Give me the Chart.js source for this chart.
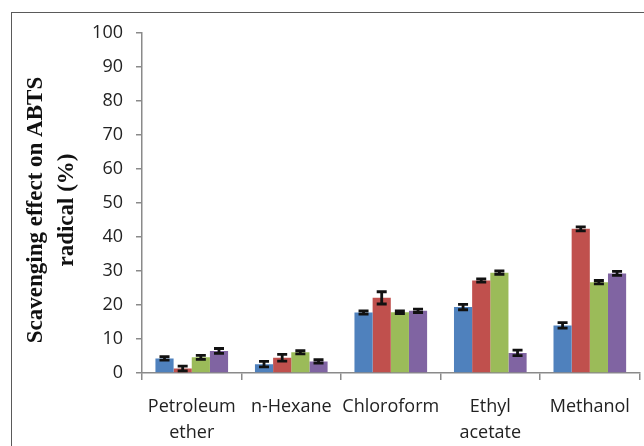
<!DOCTYPE html>
<html>
<head>
<meta charset="utf-8">
<script src="https://cdn.jsdelivr.net/npm/chart.js@4.4.1/dist/chart.umd.min.js"></script>
<style>
    html, body { margin: 0; padding: 0; background: #fff; }
    #wrap { position: relative; width: 644px; height: 446px; overflow: hidden; }
    #frame { position: absolute; left: 11px; top: 12px; width: 700px; height: 500px;
             border-top: 1.5px solid #5a5a5a; border-left: 1.5px solid #5a5a5a; }
    #chart { position: absolute; left: 0; top: 0; }
</style>
</head>
<body>
<div id="wrap">
    <div id="frame"></div>
    <canvas id="chart" width="644" height="446"></canvas>
</div>
<script>
// Data
const solvents = [['Petroleum', 'ether'], 'n-Hexane', 'Chloroform', ['Ethyl', 'acetate'], 'Methanol'];

const series1 = [4.3, 2.6, 17.8, 19.4, 14.0];
const series2 = [1.3, 4.5, 22.1, 27.2, 42.4];
const series3 = [4.6, 6.1, 17.9, 29.5, 26.7];
const series4 = [6.5, 3.4, 18.3, 5.9, 29.3];

const err1 = [0.5, 0.8, 0.5, 0.8, 0.8];
const err2 = [0.7, 1.0, 1.8, 0.5, 0.6];
const err3 = [0.6, 0.5, 0.4, 0.5, 0.5];
const err4 = [0.7, 0.5, 0.5, 0.8, 0.6];

const yTicks = [0, 10, 20, 30, 40, 50, 60, 70, 80, 90, 100];
const yTitle = ['Scavenging effect on ABTS', 'radical (%)'];

const colors = ['#4f81bd', '#c0504d', '#9bbb59', '#8064a2'];

// Error bars drawn on top of each bar
const errorBarPlugin = {
    id: 'errorBars',
    afterDatasetsDraw(chart) {
        const ctx = chart.ctx;
        const yScale = chart.scales.y;
        ctx.save();
        ctx.strokeStyle = '#111';
        ctx.lineWidth = 2.8;
        chart.data.datasets.forEach((ds, i) => {
            const meta = chart.getDatasetMeta(i);
            meta.data.forEach((bar, j) => {
                const v = ds.data[j];
                const e = ds.errors[j];
                const top = yScale.getPixelForValue(v + e);
                const bot = yScale.getPixelForValue(v - e);
                const x = bar.x;
                const cap = 5;
                ctx.beginPath();
                ctx.moveTo(x, top);
                ctx.lineTo(x, bot);
                ctx.moveTo(x - cap, top);
                ctx.lineTo(x + cap, top);
                ctx.moveTo(x - cap, bot);
                ctx.lineTo(x + cap, bot);
                ctx.stroke();
            });
        });
        ctx.restore();
    }
};

// Two-line rotated y axis title, Times-like bold
const yTitlePlugin = {
    id: 'yTitle',
    afterDraw(chart) {
        const ctx = chart.ctx;
        const area = chart.chartArea;
        const cy = (area.top + area.bottom) / 2 + 7;
        ctx.save();
        ctx.fillStyle = '#111';
        ctx.font = 'bold 23px "Liberation Serif"';
        ctx.textAlign = 'center';
        ctx.textBaseline = 'alphabetic';
        const baselines = [42, 73];
        yTitle.forEach((line, k) => {
            ctx.save();
            ctx.translate(baselines[k], cy);
            ctx.rotate(-Math.PI / 2);
            ctx.fillText(line, 0, 0);
            ctx.restore();
        });
        ctx.restore();
    }
};

const tickFont = { family: 'Open Sans', size: 18, lineHeight: 1.45 };

new Chart(document.getElementById('chart'), {
    type: 'bar',
    data: {
        labels: solvents,
        datasets: [
            { label: 'Series 1', data: series1, errors: err1, backgroundColor: colors[0] },
            { label: 'Series 2', data: series2, errors: err2, backgroundColor: colors[1] },
            { label: 'Series 3', data: series3, errors: err3, backgroundColor: colors[2] },
            { label: 'Series 4', data: series4, errors: err4, backgroundColor: colors[3] }
        ]
    },
    options: {
        responsive: false,
        animation: false,
        devicePixelRatio: 1,
        layout: { padding: { top: 33, right: 1, left: 0, bottom: 0 } },
        datasets: {
            bar: { categoryPercentage: 0.73, barPercentage: 1.0, borderWidth: 0 }
        },
        plugins: {
            legend: { display: false },
            tooltip: { enabled: false }
        },
        scales: {
            x: {
                afterFit(scale) { scale.height = 73; },
                border: { display: true, color: '#8a8a8a', width: 1.5 },
                grid: { display: true, drawOnChartArea: false, drawTicks: true, tickLength: 7, color: '#8a8a8a', lineWidth: 1.5 },
                ticks: { color: '#222', font: tickFont, padding: 14, maxRotation: 0, autoSkip: false }
            },
            y: {
                min: 0,
                max: 100,
                afterFit(scale) { scale.width = 142; },
                afterBuildTicks(scale) { scale.ticks = yTicks.map(v => ({ value: v })); },
                border: { display: true, color: '#8a8a8a', width: 1.5 },
                grid: { display: true, drawOnChartArea: false, drawTicks: true, tickLength: 6, color: '#8a8a8a', lineWidth: 1.5 },
                ticks: { color: '#222', font: { family: 'Open Sans', size: 18 }, padding: 13 }
            }
        }
    },
    plugins: [errorBarPlugin, yTitlePlugin]
});
</script>
</body>
</html>
